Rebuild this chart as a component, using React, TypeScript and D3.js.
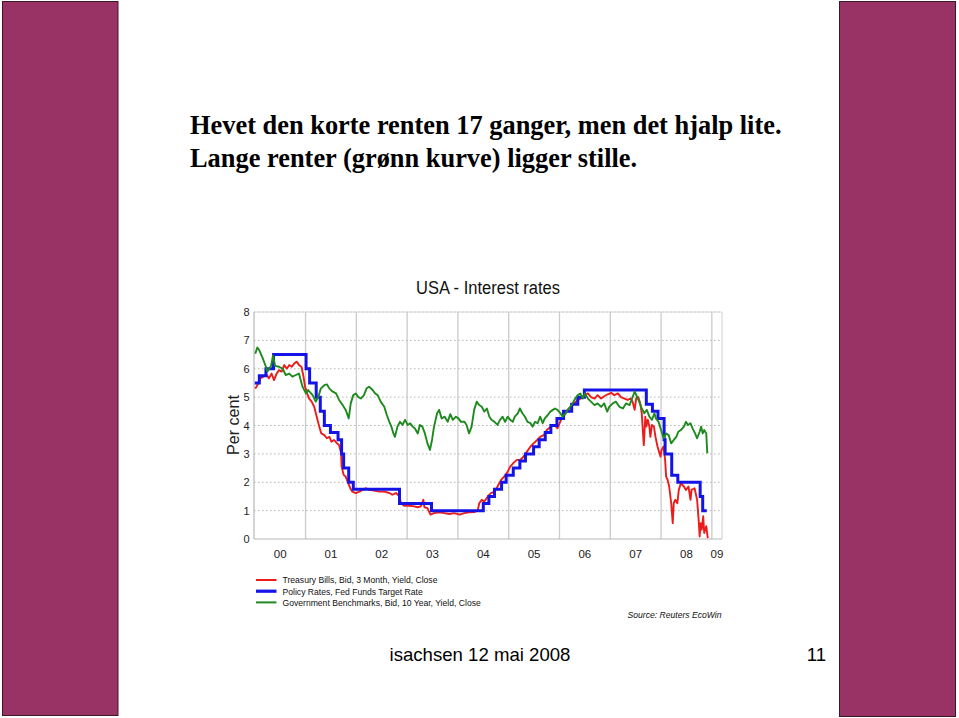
import React from "react";
import * as d3 from "d3";

const titleLines = [
  "Hevet den korte renten 17 ganger, men det hjalp lite.",
  "Lange renter (grønn kurve) ligger stille.",
];
const chartTitle = "USA - Interest rates";
const yLabel = "Per cent";
const yTicks = [0, 1, 2, 3, 4, 5, 6, 7, 8];
const yearTicks = [2000, 2001, 2002, 2003, 2004, 2005, 2006, 2007, 2008, 2009];
const yearLabels = ["00", "01", "02", "03", "04", "05", "06", "07", "08", "09"];
const seriesNames = [
  "Treasury Bills, Bid, 3 Month, Yield, Close",
  "Policy Rates, Fed Funds Target Rate",
  "Government Benchmarks, Bid, 10 Year, Yield, Close",
];
const sourceText = "Source: Reuters EcoWin";
const footerText = "isachsen 12 mai 2008";
const pageNumber = "11";

// Fed funds target rate (step changes)
const fedDates = [2000.0, 2000.09, 2000.22, 2000.37, 2001.01, 2001.08, 2001.21, 2001.29, 2001.37, 2001.49, 2001.64, 2001.71, 2001.75, 2001.85, 2001.94, 2002.85, 2003.48, 2004.5, 2004.61, 2004.72, 2004.86, 2004.95, 2005.09, 2005.22, 2005.33, 2005.49, 2005.6, 2005.72, 2005.83, 2005.95, 2006.08, 2006.24, 2006.36, 2006.49, 2007.71, 2007.83, 2007.94, 2008.06, 2008.08, 2008.21, 2008.33, 2008.77, 2008.82, 2008.9];
const fedRates = [5.5, 5.75, 6.0, 6.5, 6.0, 5.5, 5.0, 4.5, 4.0, 3.75, 3.5, 3.0, 2.5, 2.0, 1.75, 1.25, 1.0, 1.25, 1.5, 1.75, 2.0, 2.25, 2.5, 2.75, 3.0, 3.25, 3.5, 3.75, 4.0, 4.25, 4.5, 4.75, 5.0, 5.25, 4.75, 4.5, 4.25, 3.5, 3.0, 2.25, 2.0, 1.5, 1.0, 1.0];

// 10-year government benchmark yield
const tenYDates = [2000.01, 2000.05, 2000.09, 2000.15, 2000.22, 2000.25, 2000.32, 2000.36, 2000.4, 2000.48, 2000.55, 2000.61, 2000.68, 2000.74, 2000.81, 2000.87, 2000.94, 2001.01, 2001.05, 2001.14, 2001.2, 2001.25, 2001.3, 2001.37, 2001.42, 2001.47, 2001.53, 2001.6, 2001.66, 2001.73, 2001.79, 2001.85, 2001.89, 2001.94, 2001.99, 2002.04, 2002.09, 2002.15, 2002.2, 2002.25, 2002.32, 2002.37, 2002.42, 2002.48, 2002.55, 2002.6, 2002.65, 2002.69, 2002.73, 2002.76, 2002.81, 2002.86, 2002.91, 2002.96, 2003.01, 2003.06, 2003.11, 2003.15, 2003.21, 2003.25, 2003.3, 2003.35, 2003.4, 2003.45, 2003.49, 2003.53, 2003.59, 2003.63, 2003.68, 2003.74, 2003.8, 2003.85, 2003.9, 2003.96, 2004.01, 2004.06, 2004.13, 2004.17, 2004.22, 2004.27, 2004.32, 2004.37, 2004.42, 2004.47, 2004.52, 2004.57, 2004.62, 2004.66, 2004.72, 2004.78, 2004.83, 2004.88, 2004.93, 2004.98, 2005.03, 2005.08, 2005.12, 2005.18, 2005.22, 2005.27, 2005.32, 2005.37, 2005.43, 2005.47, 2005.52, 2005.57, 2005.62, 2005.67, 2005.71, 2005.77, 2005.82, 2005.87, 2005.91, 2005.96, 2006.02, 2006.06, 2006.12, 2006.16, 2006.21, 2006.26, 2006.31, 2006.36, 2006.41, 2006.46, 2006.5, 2006.56, 2006.62, 2006.69, 2006.75, 2006.82, 2006.88, 2006.94, 2006.98, 2007.05, 2007.11, 2007.18, 2007.25, 2007.31, 2007.38, 2007.44, 2007.48, 2007.53, 2007.57, 2007.62, 2007.67, 2007.72, 2007.77, 2007.82, 2007.87, 2007.9, 2007.95, 2008.0, 2008.05, 2008.1, 2008.15, 2008.2, 2008.25, 2008.3, 2008.34, 2008.39, 2008.45, 2008.49, 2008.53, 2008.58, 2008.62, 2008.67, 2008.71, 2008.76, 2008.79, 2008.82, 2008.85, 2008.89, 2008.91];
const tenYRates = [6.53, 6.75, 6.65, 6.4, 6.07, 5.9, 6.1, 6.47, 6.1, 6.07, 6.0, 5.78, 5.83, 5.72, 5.78, 5.83, 5.37, 5.13, 5.25, 5.07, 4.84, 5.0, 5.3, 5.42, 5.45, 5.3, 5.2, 5.13, 4.9, 4.72, 4.55, 4.25, 4.78, 5.07, 5.13, 5.0, 4.95, 5.07, 5.3, 5.37, 5.25, 5.13, 5.07, 4.84, 4.66, 4.37, 4.13, 3.96, 3.72, 3.6, 3.96, 4.13, 4.02, 4.2, 4.02, 4.08, 3.96, 3.9, 3.72, 4.02, 3.96, 3.72, 3.37, 3.14, 3.49, 3.96, 4.43, 4.55, 4.25, 4.31, 4.13, 4.4, 4.2, 4.31, 4.25, 4.13, 4.13, 4.02, 3.72, 3.96, 4.55, 4.84, 4.72, 4.66, 4.49, 4.6, 4.31, 4.2, 4.13, 4.02, 4.2, 4.31, 4.13, 4.31, 4.2, 4.13, 4.31, 4.43, 4.6, 4.43, 4.31, 4.13, 4.08, 3.96, 4.13, 4.08, 4.31, 4.08, 4.25, 4.37, 4.49, 4.55, 4.6, 4.55, 4.43, 4.31, 4.43, 4.55, 4.66, 4.78, 4.95, 5.07, 5.13, 4.95, 5.13, 4.95, 4.84, 4.72, 4.78, 4.66, 4.78, 4.49, 4.66, 4.78, 4.84, 4.66, 4.6, 4.78, 4.72, 5.0, 5.2, 5.0, 4.84, 4.6, 4.43, 4.55, 4.31, 4.2, 4.43, 4.25, 4.13, 3.84, 3.55, 3.72, 3.66, 3.37, 3.49, 3.6, 3.78, 3.84, 3.96, 4.13, 4.02, 4.08, 3.9, 3.72, 3.55, 3.78, 3.96, 3.72, 3.84, 3.72, 3.02];

// 3-month treasury bill yield
const billDates = [2000.01, 2000.05, 2000.11, 2000.17, 2000.24, 2000.28, 2000.33, 2000.38, 2000.43, 2000.48, 2000.53, 2000.58, 2000.63, 2000.68, 2000.73, 2000.78, 2000.83, 2000.87, 2000.92, 2000.96, 2000.99, 2001.03, 2001.07, 2001.12, 2001.17, 2001.22, 2001.27, 2001.31, 2001.37, 2001.42, 2001.47, 2001.51, 2001.56, 2001.62, 2001.66, 2001.7, 2001.71, 2001.75, 2001.79, 2001.84, 2001.88, 2001.92, 2001.99, 2002.06, 2002.12, 2002.19, 2002.25, 2002.35, 2002.45, 2002.55, 2002.65, 2002.71, 2002.78, 2002.84, 2002.88, 2002.94, 2003.04, 2003.14, 2003.21, 2003.27, 2003.32, 2003.34, 2003.4, 2003.46, 2003.53, 2003.63, 2003.73, 2003.83, 2003.93, 2004.03, 2004.13, 2004.22, 2004.32, 2004.39, 2004.42, 2004.47, 2004.52, 2004.59, 2004.65, 2004.72, 2004.78, 2004.85, 2004.91, 2004.97, 2005.03, 2005.1, 2005.16, 2005.23, 2005.29, 2005.36, 2005.43, 2005.49, 2005.56, 2005.62, 2005.69, 2005.75, 2005.83, 2005.9, 2005.96, 2006.03, 2006.1, 2006.16, 2006.23, 2006.29, 2006.36, 2006.42, 2006.49, 2006.56, 2006.62, 2006.69, 2006.75, 2006.82, 2006.88, 2006.95, 2007.02, 2007.08, 2007.15, 2007.21, 2007.28, 2007.34, 2007.4, 2007.44, 2007.48, 2007.51, 2007.55, 2007.59, 2007.62, 2007.64, 2007.66, 2007.69, 2007.71, 2007.74, 2007.77, 2007.79, 2007.82, 2007.86, 2007.89, 2007.93, 2007.99, 2008.01, 2008.05, 2008.08, 2008.1, 2008.13, 2008.16, 2008.2, 2008.23, 2008.25, 2008.28, 2008.32, 2008.35, 2008.39, 2008.45, 2008.49, 2008.54, 2008.58, 2008.6, 2008.66, 2008.71, 2008.74, 2008.76, 2008.78, 2008.8, 2008.83, 2008.85, 2008.89, 2008.92];
const billRates = [5.3, 5.42, 5.66, 5.72, 5.78, 5.66, 5.83, 5.6, 5.83, 5.95, 5.9, 6.13, 6.0, 6.13, 6.07, 6.19, 6.25, 6.13, 6.07, 5.72, 5.37, 5.13, 4.95, 4.84, 4.66, 4.31, 3.96, 3.72, 3.66, 3.55, 3.6, 3.43, 3.49, 3.37, 3.31, 3.02, 2.55, 2.26, 2.2, 1.97, 1.79, 1.67, 1.62, 1.67, 1.73, 1.79, 1.73, 1.71, 1.67, 1.67, 1.62, 1.56, 1.62, 1.52, 1.26, 1.17, 1.17, 1.15, 1.12, 1.15, 1.38, 1.12, 1.09, 0.86, 0.91, 0.94, 0.91, 0.88, 0.91, 0.86, 0.91, 0.94, 0.95, 1.01, 1.26, 1.38, 1.32, 1.5, 1.62, 1.67, 1.85, 2.08, 2.2, 2.34, 2.55, 2.69, 2.79, 2.79, 2.9, 3.08, 3.26, 3.37, 3.49, 3.6, 3.66, 3.84, 3.96, 4.02, 3.9, 4.2, 4.37, 4.55, 4.66, 4.78, 4.9, 4.95, 5.07, 5.13, 5.0, 4.95, 5.07, 4.95, 5.03, 5.1, 5.15, 5.07, 5.13, 5.0, 4.95, 4.9, 4.95, 4.84, 4.55, 4.95, 5.0, 4.78, 4.43, 3.84, 3.31, 4.31, 3.96, 4.2, 3.96, 3.6, 4.02, 3.96, 3.6, 3.26, 2.9, 3.14, 3.26, 2.79, 2.2, 2.08, 1.85, 1.26, 0.56, 1.26, 1.38, 1.26, 1.73, 1.97, 1.85, 1.73, 1.85, 1.38, 1.73, 1.79, 1.38, 0.68, 0.09, 0.56, 0.33, 0.8, 0.21, 0.45, 0.03];

const W = 959;
const H = 718;
const plot = { left: 254, right: 722, top: 312, bottom: 539 };
const colors = { bill: "#ec1c1c", fed: "#1414e6", tenY: "#1e8a1e" };
const barColor = "#993366";
const sans = "'Liberation Sans', Arial, sans-serif";

export default function App() {
  const x = d3.scaleLinear().domain([1999.985, 2009.2]).range([plot.left, plot.right]);
  const y = d3.scaleLinear().domain([0, 8]).range([plot.bottom, plot.top]);

  const mk = (ds: number[], vs: number[]) => ds.map((d, i) => [d, vs[i]] as [number, number]);
  const lineSmooth = d3.line<[number, number]>().x((d) => x(d[0])).y((d) => y(d[1]));
  const lineStep = d3
    .line<[number, number]>()
    .x((d) => x(d[0]))
    .y((d) => y(d[1]))
    .curve(d3.curveStepAfter);

  const billPath = lineSmooth(mk(billDates, billRates)) || "";
  const fedPath = lineStep(mk(fedDates, fedRates)) || "";
  const tenPath = lineSmooth(mk(tenYDates, tenYRates)) || "";

  const [d0, d1] = x.domain();
  const legendColors = [colors.bill, colors.fed, colors.tenY];
  const legendWidths = [2, 3.2, 2];

  return (
    <svg
      width={W}
      height={H}
      style={{ position: "absolute", left: 0, top: 0, background: "#fff" }}
    >
      {/* side bars */}
      <rect x={2.5} y={1.5} width={115.5} height={714} fill={barColor} stroke="#3b1828" strokeWidth={1} />
      <rect x={839.5} y={1.5} width={116} height={715} fill={barColor} stroke="#3b1828" strokeWidth={1} />

      {/* slide title */}
      {titleLines.map((t, i) => (
        <text
          key={i}
          x={190}
          y={134 + i * 33}
          fontFamily="'Liberation Serif', 'Times New Roman', serif"
          fontWeight="bold"
          fontSize={26.4}
          fill="#000"
        >
          {t}
        </text>
      ))}

      {/* chart title */}
      <text x={488} y={294} textAnchor="middle" fontFamily={sans} fontSize={18} fill="#111" textLength={144} lengthAdjust="spacingAndGlyphs">
        {chartTitle}
      </text>

      {/* vertical grid lines */}
      {yearTicks.slice(1).map((yr) => (
        <line key={yr} x1={x(yr)} x2={x(yr)} y1={plot.top} y2={plot.bottom} stroke="#cbcbcb" strokeWidth={1.3} />
      ))}
      {/* horizontal dotted grid lines */}
      {yTicks.slice(1).map((v) => (
        <line key={v} x1={plot.left} x2={plot.right} y1={y(v)} y2={y(v)} stroke="#b4b4b4" strokeWidth={1} strokeDasharray="1.5,2.5" />
      ))}
      {/* frame */}
      <line x1={plot.left} x2={plot.right} y1={plot.top} y2={plot.top} stroke="#d8d8d8" strokeWidth={1} />
      <line x1={plot.right} x2={plot.right} y1={plot.top} y2={plot.bottom} stroke="#d0d0d0" strokeWidth={1} />
      <line x1={plot.left} x2={plot.left} y1={plot.top} y2={plot.bottom} stroke="#b8b8b8" strokeWidth={1.2} />
      <line x1={plot.left} x2={plot.right} y1={plot.bottom} y2={plot.bottom} stroke="#b8b8b8" strokeWidth={1.2} />

      {/* y tick labels */}
      {yTicks.map((v) => (
        <text key={v} x={249.5} y={y(v) + 4} textAnchor="end" fontFamily={sans} fontSize={11} fill="#222">
          {v}
        </text>
      ))}
      {/* x tick labels */}
      {yearTicks.map((yr, i) => {
        const a = Math.max(yr, d0);
        const b = Math.min(yr + 1, d1);
        return (
          <text key={yr} x={x((a + b) / 2)} y={558} textAnchor="middle" fontFamily={sans} fontSize={11.5} fill="#222">
            {yearLabels[i]}
          </text>
        );
      })}
      {/* y axis label */}
      <text
        transform={`translate(239,425) rotate(-90)`}
        textAnchor="middle"
        fontFamily={sans}
        fontSize={16}
        fill="#222"
        textLength={60}
        lengthAdjust="spacingAndGlyphs"
      >
        {yLabel}
      </text>

      {/* series */}
      <path d={billPath} fill="none" stroke={colors.bill} strokeWidth={1.9} strokeLinejoin="round" />
      <path d={fedPath} fill="none" stroke={colors.fed} strokeWidth={3} />
      <path d={tenPath} fill="none" stroke={colors.tenY} strokeWidth={1.9} strokeLinejoin="round" />

      {/* legend */}
      {seriesNames.map((n, i) => (
        <g key={i}>
          <line x1={256} x2={276.5} y1={580 + i * 11.2} y2={580 + i * 11.2} stroke={legendColors[i]} strokeWidth={legendWidths[i]} />
          <text x={282.5} y={583.3 + i * 11.2} fontFamily={sans} fontSize={8.6} fill="#111">
            {n}
          </text>
        </g>
      ))}
      <text x={721.5} y={617.5} textAnchor="end" fontFamily={sans} fontSize={8.6} fontStyle="italic" fill="#111">
        {sourceText}
      </text>

      {/* footer */}
      <text x={480} y={661} textAnchor="middle" fontFamily={sans} fontSize={18.6} fill="#000">
        {footerText}
      </text>
      <text x={826} y={661} textAnchor="end" fontFamily={sans} fontSize={18.6} fill="#000">
        {pageNumber}
      </text>
    </svg>
  );
}
